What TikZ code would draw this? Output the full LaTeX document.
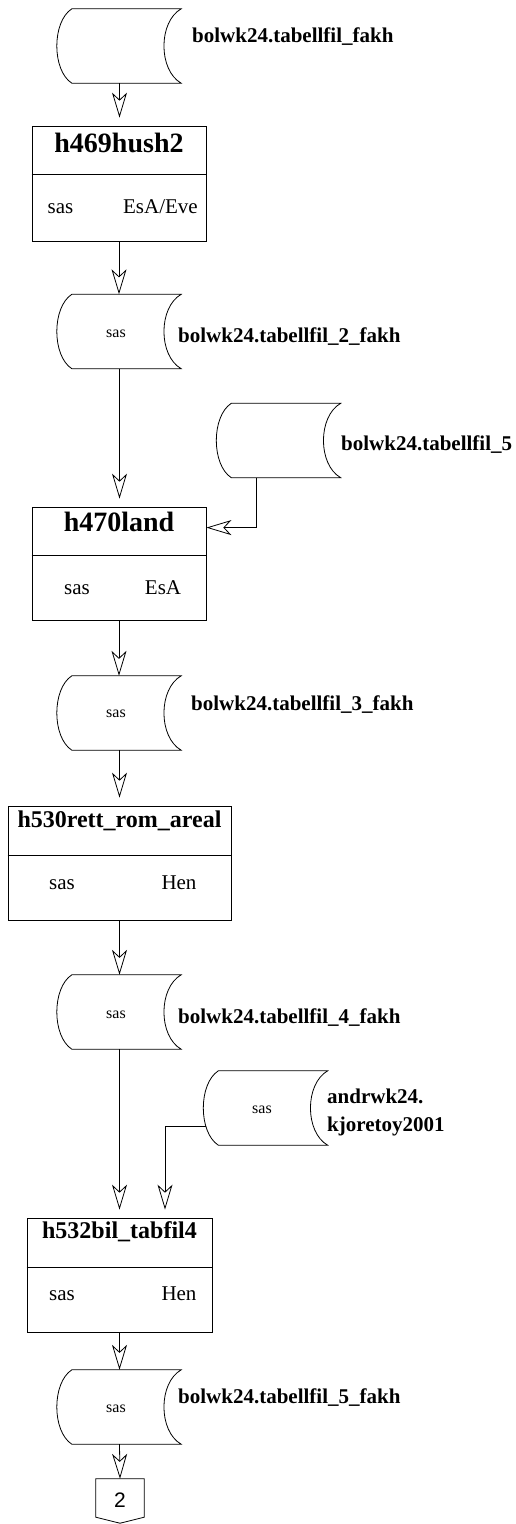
\documentclass[tikz,border=0pt]{standalone}
\usepackage{fontspec}
\setmainfont{Liberation Serif}
\newfontfamily\sansfont{Liberation Sans}
\usepackage{tikz}
\usetikzlibrary{arrows.meta, positioning, calc}

\tikzset{
  jobbox/.style={draw, line width=0.8pt, inner sep=0pt},
  jobtitle/.style={font=\bfseries\fontsize{28}{30}\selectfont, anchor=base, inner sep=0pt},
  jobtitlesmall/.style={font=\bfseries\fontsize{24}{26}\selectfont, anchor=base, inner sep=0pt},
  jobtext/.style={font=\fontsize{21}{24}\selectfont, anchor=base, inner sep=0pt},
  datafil/.style={minimum width=123pt, minimum height=74pt, inner sep=0pt},
  datatext/.style={font=\fontsize{16}{18}\selectfont, anchor=base, inner sep=0pt},
  fillabel/.style={font=\bfseries\fontsize{21}{28}\selectfont, anchor=base west, inner sep=0pt, align=left},
  flyt/.style={-{Stealth[open, length=25pt, width=15pt, inset=7pt]}, line width=0.8pt},
}

% outline of a stored data file
\newcommand{\datafilform}[1]{%
  \draw[line width=0.8pt] ($(#1.north west)+(14pt,0)$) -- (#1.north east)
    .. controls +(-23pt,-13pt) and +(-23pt,13pt) .. (#1.south east)
    -- ($(#1.south west)+(14pt,0)$)
    .. controls +(-20pt,13pt) and +(-20pt,-13pt) .. cycle;}

\begin{document}
\begin{tikzpicture}[x=1pt, y=-1pt]
    \useasboundingbox (0,0) rectangle (516,1524);

    % data files
    \node[datafil] (fakh) at (119.5,46) {};
    \node[datafil] (fakh2) at (119.5,331.5) {};
    \node[datafil] (fil5) at (279,440.5) {};
    \node[datafil] (fakh3) at (119.5,713) {};
    \node[datafil] (fakh4) at (119.5,1012) {};
    \node[datafil] (andr) at (266,1108) {};
    \node[datafil] (fakh5) at (119.5,1407) {};
    \foreach \f in {fakh, fakh2, fil5, fakh3, fakh4, andr, fakh5} {\datafilform{\f}}

    \node[datatext] (fakh2sas) at (116,337) {sas};
    \node[datatext] (fakh3sas) at (116,717) {sas};
    \node[datatext] (fakh4sas) at (116,1018) {sas};
    \node[datatext] (andrsas) at (262,1113) {sas};
    \node[datatext] (fakh5sas) at (116,1412) {sas};

    \node[fillabel] (fakhlbl) at (192,42) {bolwk24.tabellfil\_fakh};
    \node[fillabel] (fakh2lbl) at (178,342) {bolwk24.tabellfil\_2\_fakh};
    \node[fillabel] (fil5lbl) at (341,450) {bolwk24.tabellfil\_5};
    \node[fillabel] (fakh3lbl) at (191,710) {bolwk24.tabellfil\_3\_fakh};
    \node[fillabel] (fakh4lbl) at (178,1023) {bolwk24.tabellfil\_4\_fakh};
    \node[fillabel, anchor=west] (andrlbl) at (327,1112) {andrwk24.\\kjoretoy2001};
    \node[fillabel] (fakh5lbl) at (178,1403) {bolwk24.tabellfil\_5\_fakh};

    % programs
    \node[jobbox, minimum width=174pt, minimum height=115pt] (hush) at (119,183.5) {};
    \draw[line width=0.8pt] (hush.west |- 0,174) -- (hush.east |- 0,174);
    \node[jobtitle] (hushtitle) at (119,152) {h469hush2};
    \node[jobtext] (hushsas) at (60.5,213) {sas};
    \node[jobtext, anchor=base east] (hushesa) at (198,213) {EsA/Eve};

    \node[jobbox, minimum width=174pt, minimum height=113pt] (land) at (119,563.5) {};
    \draw[line width=0.8pt] (land.west |- 0,555) -- (land.east |- 0,555);
    \node[jobtitle] (landtitle) at (119,531) {h470land};
    \node[jobtext] (landsas) at (77,594) {sas};
    \node[jobtext] (landesa) at (163,594) {EsA};

    \node[jobbox, minimum width=223pt, minimum height=114pt] (rett) at (119.5,863) {};
    \draw[line width=0.8pt] (rett.west |- 0,855) -- (rett.east |- 0,855);
    \node[jobtitlesmall] (retttitle) at (119.5,827) {h530rett\_rom\_areal};
    \node[jobtext] (rettsas) at (62,889) {sas};
    \node[jobtext] (retthen) at (179,889) {Hen};

    \node[jobbox, minimum width=185pt, minimum height=114pt] (bil) at (119.5,1275) {};
    \draw[line width=0.8pt] (bil.west |- 0,1267) -- (bil.east |- 0,1267);
    \node[jobtitlesmall] (biltitle) at (119.5,1238) {h532bil\_tabfil4};
    \node[jobtext] (bilsas) at (62,1300) {sas};
    \node[jobtext] (bilhen) at (179,1300) {Hen};

    % off-page connector
    \node[minimum width=48pt, minimum height=38pt, inner sep=0pt] (side2) at (120,1498) {};
    \draw[line width=0.8pt] (side2.north west) -- (side2.north east) -- (side2.south east)
        -- ($(side2.south)+(0,-6pt)$) -- (side2.south west) -- cycle;
    \node[font=\sansfont\fontsize{21}{24}\selectfont, anchor=base, inner sep=0pt] (side2txt) at (120,1507) {2};

    % flow
    \draw[flyt, shorten >=8pt] (fakh.south) -- (fakh.south |- hush.north);
    \draw[flyt] (hush.south) -- (hush.south |- fakh2.north);
    \draw[flyt, shorten >=8pt] (fakh2.south) -- (fakh2.south |- land.north);
    \draw[flyt] ($(fil5.south)+(-23,0)$) |- ($(land.north east)+(0,21)$);
    \draw[flyt] (land.south) -- (land.south |- fakh3.north);
    \draw[flyt, shorten >=8pt] (fakh3.south) -- (fakh3.south |- rett.north);
    \draw[flyt] (rett.south) -- (rett.south |- fakh4.north);
    \draw[flyt, shorten >=8pt] (fakh4.south) -- (fakh4.south |- bil.north);
    \draw[flyt, shorten >=8pt] ($(andr.west)+(2,18)$) -| ($(bil.north)+(45.5,0)$);
    \draw[flyt] (bil.south) -- (bil.south |- fakh5.north);
    \draw[flyt] (fakh5.south) -- (side2.north);
\end{tikzpicture}
\end{document}
